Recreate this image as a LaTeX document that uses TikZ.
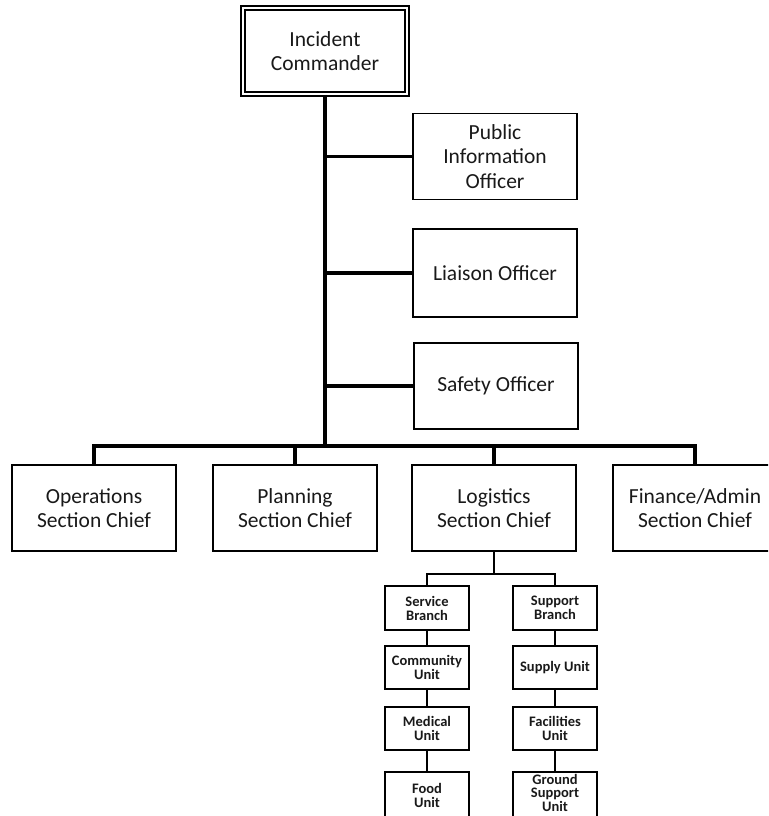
\documentclass[tikz,border=0pt]{standalone}
\usepackage{fontspec}
\setmainfont{Carlito}
\begin{document}
\begin{tikzpicture}[x=1pt,y=-1pt,
  box/.style={draw, line width=1.3pt, minimum width=164pt, minimum height=86pt, align=center,
    font=\fontsize{21.5}{24.5}\selectfont, inner sep=0pt, text=black!90},
  icbox/.style={box, double, line width=1.7pt, double distance=2.5pt, minimum width=164pt, minimum height=86pt},
  subfont/.style={font=\bfseries\fontsize{14.5}{14}\selectfont, text=black!90, align=center, inner sep=0pt},
  sub/.style={draw, line width=1.3pt, minimum width=84pt, minimum height=43pt, subfont},
  conn/.style={line width=3.5pt},
  sconn/.style={line width=2.8pt}]
\clip (0,0) rectangle (768,816);
\useasboundingbox (0,0) rectangle (768,816);

\node[icbox] (ic) at (325,51) {Incident\\Commander};
\node[box] (pio) at (495,156.5) {Public\\Information\\Officer};
\node[box, minimum height=88pt] (lia) at (495,273) {Liaison Officer};
\node[box] (saf) at (496,386) {Safety Officer};

\node[box] (ops) at (94,508) {Operations\\Section Chief};
\node[box] (plan) at (295,508) {Planning\\Section Chief};
\node[box] (log) at (494,508) {Logistics\\Section Chief};
\node[box] (fin) at (695,508) {Finance/Admin\\Section Chief};

\node[sub, minimum height=44pt] (svc) at (427,608) {Service\\Branch};
\node[sub] (com) at (427,667.5) {Community\\Unit};
\node[sub] (med) at (427,728.5) {Medical\\Unit};
\node[sub, minimum height=46pt] (food) at (427,795) {Food\\Unit};

\node[sub, minimum height=44pt] (sup) at (555,608) {Support\\Branch};
\node[sub] (spl) at (555,667.5) {Supply Unit};
\node[sub] (fac) at (555,728.5) {Facilities\\Unit};
\node[sub, minimum height=46pt,
  label={[subfont, font=\bfseries\fontsize{14.5}{13.5}\selectfont, yshift=2.5pt]center:Ground\\Support\\Unit}]
  (gnd) at (555,795) {};

\coordinate (j) at (325,446);
\coordinate (k) at (494,574);

\draw[conn] (ic.south) -- (j);
\draw[conn] (pio.west) -- (pio.west -| j);
\draw[conn] (lia.west) -- (lia.west -| j);
\draw[conn] (saf.west) -- (saf.west -| j);
\draw[conn] (ops.north) |- (j) -| (fin.north);
\draw[conn] (plan.north) -- (plan.north |- j);
\draw[conn] (log.north) -- (log.north |- j);

\draw[sconn] (log.south) -- (k);
\draw[sconn] (svc.north) |- (k) -| (sup.north);
\draw[sconn] (svc.south) -- (com.north);
\draw[sconn] (com.south) -- (med.north);
\draw[sconn] (med.south) -- (food.north);
\draw[sconn] (sup.south) -- (spl.north);
\draw[sconn] (spl.south) -- (fac.north);
\draw[sconn] (fac.south) -- (gnd.north);
\end{tikzpicture}
\end{document}
